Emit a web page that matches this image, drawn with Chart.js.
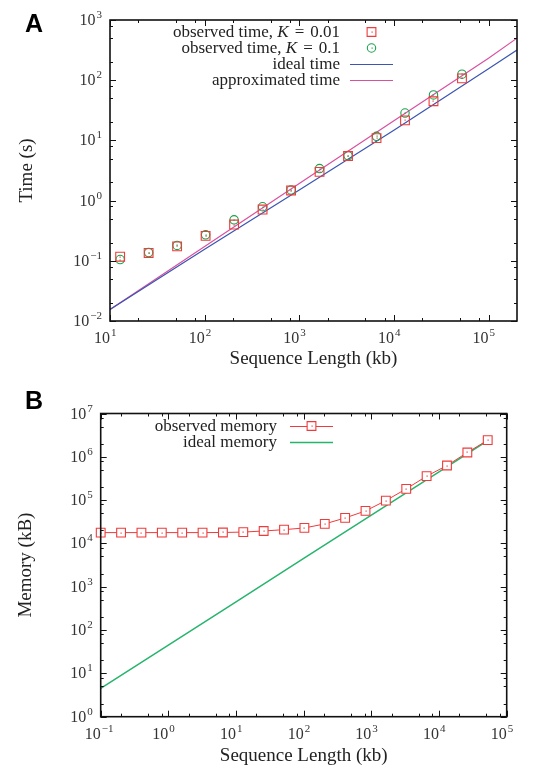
<!DOCTYPE html>
<html><head><meta charset="utf-8">
<script src="https://cdn.jsdelivr.net/npm/chart.js@4.4.1/dist/chart.umd.min.js"></script>
<style>
html,body{margin:0;padding:0;background:#fff;}
#wrap{position:relative;width:534px;height:768px;overflow:hidden;}
.panel{position:absolute;left:0;width:534px;height:384px;}
#pa{top:0;}
#pb{top:384px;}
</style></head><body>
<div id="wrap">
<div class="panel" id="pa"><canvas id="ca" width="534" height="384"></canvas></div>
<div class="panel" id="pb"><canvas id="cb" width="534" height="384"></canvas></div>
</div>
<script>
// ---------- Panel A data ----------
const lengthsA = [12.8, 25.6, 51.2, 102.4, 204.8, 409.6, 819.2, 1638.4, 3276.8, 6553.6, 13107.2, 26214.4, 52428.8];
const timeK001 = [0.117, 0.135, 0.174, 0.26, 0.40, 0.71, 1.47, 3.0, 5.5, 10.9, 21.5, 44.7, 107];
const timeK01  = [0.105, 0.137, 0.18, 0.27, 0.48, 0.79, 1.5, 3.4, 5.6, 11.7, 28.5, 57, 126];
const lineLengthsA = [10, 100, 1000, 10000, 100000, 200000];
const idealTime  = [0.0155, 0.155, 1.5, 14.7, 155, 316];
const approxTime = [0.0155, 0.172, 1.92, 21.2, 232, 500];
const xTicksA = [10, 100, 1000, 10000, 100000];
const xTickLabelsA = ['10^1', '10^2', '10^3', '10^4', '10^5'];
const yTicksA = [0.01, 0.1, 1, 10, 100, 1000];
const yTickLabelsA = ['10^\u22122', '10^\u22121', '10^0', '10^1', '10^2', '10^3'];

// ---------- Panel B data ----------
const lengthsB = [0.1, 0.2, 0.4, 0.8, 1.6, 3.2, 6.4, 12.8, 25.6, 51.2, 102.4, 204.8, 409.6, 819.2, 1638.4, 3276.8, 6553.6, 13107.2, 26214.4, 52428.8];
const observedMemory = [17800, 17800, 17800, 17800, 17800, 17800, 17900, 18300, 19400, 20800, 22800, 28200, 38800, 56300, 97700, 182000, 357000, 630000, 1260000, 2430000];
const idealLengthsB = [0.1, 1, 10, 100, 1000, 10000, 52428.8];
const idealMemory = [4.5, 45, 450, 4500, 45000, 450000, 2360000];
const xTicksB = [0.1, 1, 10, 100, 1000, 10000, 100000];
const xTickLabelsB = ['10^\u22121', '10^0', '10^1', '10^2', '10^3', '10^4', '10^5'];
const yTicksB = [1, 10, 100, 1000, 10000, 100000, 1000000, 10000000];
const yTickLabelsB = ['10^0', '10^1', '10^2', '10^3', '10^4', '10^5', '10^6', '10^7'];

const RED = '#ee3b3b', GREEN_PT = '#17a34a', BLUE = '#3a55b2', PINK = '#d9509f', GREEN_LN = '#27b46d';
const SERIF = '"Liberation Serif", "Times New Roman", serif';

function pts(xs, ys) { return xs.map((x, i) => ({ x: x, y: ys[i] })); }

function drawExp(ctx, label, x, y, mode) {
  const parts = label.split('^');
  const base = parts[0], exp = parts[1];
  ctx.font = '16px ' + SERIF; const wb = ctx.measureText(base).width;
  ctx.font = '11px ' + SERIF; const we = ctx.measureText(exp).width;
  let x0;
  if (mode === 'x') x0 = x - wb; else x0 = x - wb - 1 - we;
  ctx.textAlign = 'left'; ctx.textBaseline = 'alphabetic';
  ctx.font = '16px ' + SERIF; ctx.fillText(base, x0, y);
  ctx.font = '11px ' + SERIF; ctx.fillText(exp, x0 + wb + 1, y - 7);
}

function drawRuns(ctx, text, xRight, baseline) {
  const runs = [];
  const toks = text.split(/(\bK\b| = )/);
  toks.forEach(t => {
    if (t === 'K') runs.push({ t: 'K', f: 'italic 17px ' + SERIF, pad: 0 });
    else if (t === ' = ') runs.push({ t: '=', f: '17px ' + SERIF, pad: 6 });
    else if (t.length) runs.push({ t: t, f: '17px ' + SERIF, pad: 0 });
  });
  let total = 0;
  runs.forEach(r => { ctx.font = r.f; r.w = ctx.measureText(r.t).width + 2 * r.pad; total += r.w; });
  let x = xRight - total;
  ctx.textAlign = 'left'; ctx.textBaseline = 'alphabetic'; ctx.fillStyle = '#222';
  runs.forEach(r => { ctx.font = r.f; ctx.fillText(r.t, x + r.pad, baseline); x += r.w; });
}

const decor = {
  id: 'decor',
  afterDatasetsDraw(chart) {
    const ctx = chart.ctx;
    chart.data.datasets.forEach((ds, i) => {
      if (!ds.centerDot) return;
      chart.getDatasetMeta(i).data.forEach(el => {
        ctx.fillStyle = ds.borderColor;
        ctx.fillRect(Math.round(el.x) - 0.5, Math.round(el.y) - 0.5, 1.2, 1.2);
      });
    });
  },
  afterDraw(chart) {
    const ctx = chart.ctx; const o = chart.options.plugins.decor;
    const a = chart.chartArea; const xs = chart.scales.x, ys = chart.scales.y;
    ctx.save();
    ctx.strokeStyle = '#111'; ctx.lineWidth = 1.6;
    ctx.strokeRect(a.left, a.top, a.right - a.left, a.bottom - a.top);
    ctx.lineWidth = 1;
    const tick = (axis, v, len) => {
      if (axis === 'x') {
        const p = Math.round(xs.getPixelForValue(v)) + 0.5;
        ctx.beginPath(); ctx.moveTo(p, a.bottom); ctx.lineTo(p, a.bottom - len);
        ctx.moveTo(p, a.top); ctx.lineTo(p, a.top + len); ctx.stroke();
      } else {
        const p = Math.round(ys.getPixelForValue(v)) + 0.5;
        ctx.beginPath(); ctx.moveTo(a.left, p); ctx.lineTo(a.left + len, p);
        ctx.moveTo(a.right, p); ctx.lineTo(a.right - len, p); ctx.stroke();
      }
    };
    const doTicks = (axis, list, min, max) => {
      list.forEach(v => {
        if (v >= min && v <= max) tick(axis, v, 6);
        [2, 5, 8].forEach(m => { const w = v * m; if (w > min && w < max) tick(axis, w, 3); });
      });
      const first = list[0] / 10; [2, 5, 8].forEach(m => { const w = first * m; if (w > min && w < max) tick(axis, w, 3); });
    };
    doTicks('x', o.xTicks, xs.min, xs.max);
    doTicks('y', o.yTicks, ys.min, ys.max);
    ctx.fillStyle = '#333';
    o.xTicks.forEach((v, i) => drawExp(ctx, o.xLabels[i], xs.getPixelForValue(v), a.bottom + 22, 'x'));
    o.yTicks.forEach((v, i) => drawExp(ctx, o.yLabels[i], a.left - 8, ys.getPixelForValue(v) + 5, 'y'));
    ctx.fillStyle = '#222';
    ctx.font = '19px ' + SERIF; ctx.textAlign = 'center'; ctx.textBaseline = 'alphabetic';
    ctx.fillText(o.xTitle, (a.left + a.right) / 2, a.bottom + o.xTitleOff);
    ctx.save();
    ctx.translate(o.yTitleX, (a.top + a.bottom) / 2); ctx.rotate(-Math.PI / 2);
    ctx.textBaseline = 'middle'; ctx.fillText(o.yTitle, 0, 0);
    ctx.restore();
    ctx.fillStyle = '#000'; ctx.font = 'bold 25px "Liberation Sans", Arial, sans-serif';
    ctx.textAlign = 'left'; ctx.textBaseline = 'alphabetic';
    ctx.fillText(o.letter, o.letterX, o.letterY);
    const L = o.legend;
    chart.data.datasets.forEach((ds, i) => {
      const cy = L.y0 + i * L.dy;
      drawRuns(ctx, ds.label, L.textRight, cy + 5);
      ctx.strokeStyle = ds.borderColor; ctx.fillStyle = ds.borderColor;
      if (ds.showLine) {
        ctx.lineWidth = ds.borderWidth;
        ctx.beginPath(); ctx.moveTo(L.x1, cy + 0.5); ctx.lineTo(L.x2, cy + 0.5); ctx.stroke();
      }
      if (ds.pointRadius > 0) {
        const mx = (L.x1 + L.x2) / 2;
        ctx.lineWidth = ds.pointBorderWidth || 1;
        const r = ds.pointRadius;
        ctx.beginPath();
        if (ds.pointStyle === 'rect') { const s = r * Math.SQRT1_2; ctx.rect(mx - s, cy - s, 2 * s, 2 * s); }
        else ctx.arc(mx, cy, r, 0, Math.PI * 2);
        if (ds.pointBackgroundColor) { ctx.fillStyle = ds.pointBackgroundColor; ctx.fill(); ctx.fillStyle = ds.borderColor; }
        ctx.stroke();
        if (ds.centerDot) ctx.fillRect(Math.round(mx) - 0.5, Math.round(cy) - 0.5, 1.2, 1.2);
      }
    });
    ctx.restore();
  }
};

function axes(xmin, xmax, ymin, ymax, leftW, bottomH) {
  return {
    x: { type: 'logarithmic', min: xmin, max: xmax, ticks: { display: false }, grid: { display: false }, border: { display: false },
         afterFit: s => { s.height = bottomH; } },
    y: { type: 'logarithmic', min: ymin, max: ymax, ticks: { display: false }, grid: { display: false }, border: { display: false },
         afterFit: s => { s.width = leftW; } }
  };
}

new Chart(document.getElementById('ca'), {
  type: 'scatter',
  data: { datasets: [
    { label: 'observed time, K = 0.01', data: pts(lengthsA, timeK001), showLine: false, pointStyle: 'rect', pointRadius: 6.2,
      pointBorderWidth: 1.1, borderColor: RED, backgroundColor: 'rgba(0,0,0,0)', centerDot: true, clip: false },
    { label: 'observed time, K = 0.1', data: pts(lengthsA, timeK01), showLine: false, pointStyle: 'circle', pointRadius: 4.2,
      pointBorderWidth: 1.1, borderColor: GREEN_PT, backgroundColor: 'rgba(0,0,0,0)', centerDot: true, clip: false },
    { label: 'ideal time', data: pts(lineLengthsA, idealTime), showLine: true, pointRadius: 0, borderWidth: 1.2,
      borderColor: BLUE, backgroundColor: BLUE },
    { label: 'approximated time', data: pts(lineLengthsA, approxTime), showLine: true, pointRadius: 0, borderWidth: 1.2,
      borderColor: PINK, backgroundColor: PINK }
  ] },
  options: {
    responsive: false, animation: false, devicePixelRatio: 1,
    layout: { padding: { top: 20, right: 17, left: 0, bottom: 0 } },
    scales: axes(10, 200000, 0.01, 1000, 110, 63),
    plugins: { legend: { display: false }, tooltip: { enabled: false },
      decor: { xTicks: xTicksA, xLabels: xTickLabelsA, yTicks: yTicksA, yLabels: yTickLabelsA,
        xTitle: 'Sequence Length (kb)', xTitleOff: 43, yTitle: 'Time (s)', yTitleX: 27,
        letter: 'A', letterX: 25, letterY: 32,
        legend: { y0: 32, dy: 16, textRight: 340, x1: 350, x2: 393 } } }
  },
  plugins: [decor]
});

new Chart(document.getElementById('cb'), {
  type: 'scatter',
  data: { datasets: [
    { label: 'observed memory', data: pts(lengthsB, observedMemory), showLine: true, pointStyle: 'rect', pointRadius: 6.2,
      pointBorderWidth: 1.1, borderWidth: 1, borderColor: RED, backgroundColor: RED, pointBackgroundColor: '#ffffff',
      centerDot: true, clip: false },
    { label: 'ideal memory', data: pts(idealLengthsB, idealMemory), showLine: true, pointRadius: 0, borderWidth: 1.5,
      borderColor: GREEN_LN, backgroundColor: GREEN_LN }
  ] },
  options: {
    responsive: false, animation: false, devicePixelRatio: 1,
    layout: { padding: { top: 29.5, right: 27.3, left: 0, bottom: 0 } },
    scales: axes(0.1, 100000, 1, 10000000, 100.7, 51.3),
    plugins: { legend: { display: false }, tooltip: { enabled: false },
      decor: { xTicks: xTicksB, xLabels: xTickLabelsB, yTicks: yTicksB, yLabels: yTickLabelsB,
        xTitle: 'Sequence Length (kb)', xTitleOff: 44, yTitle: 'Memory (kB)', yTitleX: 26,
        letter: 'B', letterX: 25, letterY: 25,
        legend: { y0: 42, dy: 16, textRight: 277, x1: 290, x2: 333 } } }
  },
  plugins: [decor]
});
</script>
</body></html>
